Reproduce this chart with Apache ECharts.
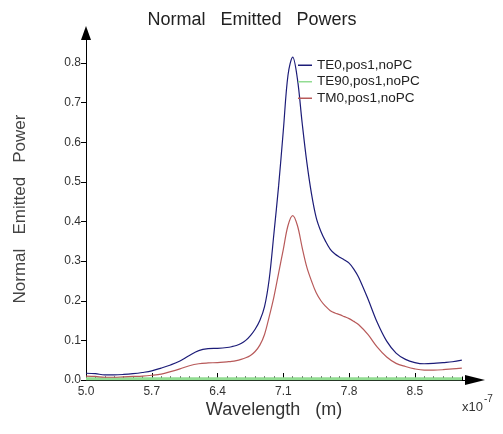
<!DOCTYPE html>
<html>
<head>
<meta charset="utf-8">
<script src="https://cdn.jsdelivr.net/npm/echarts@6/dist/echarts.min.js"></script>
<style>html,body{margin:0;padding:0;background:#fff}#c{width:503px;height:434px}</style>
</head>
<body>
<div id="c"></div>
<script>
// Wavelength (x10^-7 m)
var wavelength = [5.0,5.1,5.2,5.3,5.4,5.5,5.6,5.7,5.8,5.9,6.0,6.1,6.2,6.3,6.4,6.5,6.55,6.6,6.65,6.7,6.75,6.8,6.85,6.9,6.95,7.0,7.05,7.1,7.15,7.2,7.25,7.3,7.35,7.4,7.45,7.5,7.55,7.6,7.65,7.7,7.75,7.8,7.85,7.9,8.0,8.1,8.2,8.3,8.4,8.5,8.6,8.7,8.8,8.9,9.0];
var te0 = [0.017,0.016,0.013,0.013,0.014,0.016,0.019,0.023,0.030,0.038,0.048,0.062,0.074,0.079,0.080,0.082,0.084,0.087,0.092,0.100,0.112,0.128,0.150,0.185,0.255,0.37,0.49,0.63,0.77,0.815,0.76,0.65,0.55,0.47,0.41,0.375,0.35,0.33,0.318,0.31,0.303,0.295,0.28,0.26,0.205,0.145,0.098,0.068,0.052,0.044,0.041,0.042,0.044,0.046,0.050];
var te90 = [0.003,0.003,0.003,0.003,0.003,0.003,0.003,0.003,0.003,0.003,0.003,0.003,0.003,0.003,0.003,0.003,0.003,0.003,0.003,0.003,0.003,0.003,0.003,0.003,0.003,0.003,0.003,0.003,0.003,0.003,0.003,0.003,0.003,0.003,0.003,0.003,0.003,0.003,0.003,0.003,0.003,0.003,0.003,0.003,0.003,0.003,0.003,0.003,0.003,0.003,0.003,0.003,0.003,0.003,0.003];
var tm0 = [0.010,0.009,0.007,0.007,0.008,0.009,0.010,0.012,0.015,0.021,0.028,0.036,0.041,0.043,0.044,0.046,0.047,0.049,0.052,0.056,0.062,0.072,0.088,0.115,0.16,0.21,0.27,0.33,0.39,0.415,0.39,0.335,0.285,0.25,0.22,0.20,0.186,0.175,0.169,0.165,0.16,0.155,0.148,0.14,0.115,0.083,0.058,0.042,0.034,0.028,0.025,0.025,0.026,0.028,0.030];
var seriesNames = ['TE0,pos1,noPC','TE90,pos1,noPC','TM0,pos1,noPC'];
var xTicks = [5.0,5.7,6.4,7.1,7.8,8.5];
var yTicks = [0,0.1,0.2,0.3,0.4,0.5,0.6,0.7,0.8];
var minorXTicks = [];
for (var i = 50; i <= 90; i++) minorXTicks.push(i / 10);

function pairs(ys){ return wavelength.map(function(x,i){ return [x, ys[i]]; }); }

var FONT = '"Liberation Sans",Arial,sans-serif';
var chart = echarts.init(document.getElementById('c'), null, {renderer:'canvas'});
chart.setOption({
  animation: false,
  backgroundColor: '#fff',
  grid: {left: 86, right: 28, top: 33, bottom: 54, containLabel: false},
  legend: {
    orient: 'vertical', left: 293, top: 52, itemGap: 0,
    itemWidth: 14, itemHeight: 1.5, icon: 'rect',
    textStyle: {fontFamily: FONT, fontSize: 13.5, color: '#222', lineHeight: 16.5},
    data: seriesNames
  },
  xAxis: [{
    type: 'value', min: 5.0, max: 9.14,
    axisLine: {show: true, lineStyle: {color: '#000', width: 1}, symbol: ['none','triangle'], symbolSize: [10, 20]},
    axisTick: {show: true, inside: true, length: 7, lineStyle: {color: '#000'}, customValues: xTicks},
    axisLabel: {customValues: xTicks, formatter: function(v){return v.toFixed(1);}, fontFamily: FONT, fontSize: 12, color: '#333', margin: 6},
    splitLine: {show: false}
  },{
    type: 'value', min: 5.0, max: 9.14, position: 'bottom',
    axisLine: {show: false},
    axisTick: {show: true, inside: true, length: 3.5, lineStyle: {color: '#000'}, customValues: minorXTicks},
    axisLabel: {show: false},
    splitLine: {show: false}
  }],
  yAxis: {
    type: 'value', min: 0, max: 0.876,
    axisLine: {show: true, lineStyle: {color: '#000', width: 1}, symbol: ['none','triangle'], symbolSize: [10, 14]},
    axisTick: {show: true, length: 5, lineStyle: {color: '#000'}, customValues: yTicks},
    axisLabel: {customValues: yTicks, formatter: function(v){return v.toFixed(1);}, fontFamily: FONT, fontSize: 12, color: '#333', margin: 5},
    splitLine: {show: false}
  },
  graphic: [
    {type: 'text', x: 252, y: 20, style: {text: 'Normal   Emitted   Powers', font: '18px ' + FONT, fill: '#222', align: 'center', verticalAlign: 'middle'}},
    {type: 'text', x: 20, y: 209, rotation: Math.PI/2, style: {text: 'Normal   Emitted   Power', font: '17px ' + FONT, fill: '#444', align: 'center', verticalAlign: 'middle'}},
    {type: 'text', x: 274, y: 410, style: {text: 'Wavelength   (m)', font: '18px ' + FONT, fill: '#333', align: 'center', verticalAlign: 'middle'}},
    {type: 'text', x: 462, y: 404, style: {
      text: '{a|x10}{b|-7}', verticalAlign: 'middle', align: 'left',
      rich: {a: {fontFamily: FONT, fontSize: 13, fill: '#333', color: '#333', verticalAlign: 'bottom', padding: [6,0,0,0]},
             b: {fontFamily: FONT, fontSize: 10, fill: '#333', color: '#333', verticalAlign: 'top', padding: [0,0,8,1]}}
    }}
  ],
  series: [
    {name: seriesNames[0], type: 'line', data: pairs(te0), smooth: 0.35, showSymbol: false, lineStyle: {color: '#1c1c78', width: 1.2}, itemStyle: {color: '#1c1c78'}},
    {name: seriesNames[1], type: 'line', data: pairs(te90), smooth: 0.35, showSymbol: false, lineStyle: {color: '#92dc92', width: 3}, itemStyle: {color: '#92dc92'}},
    {name: seriesNames[2], type: 'line', data: pairs(tm0), smooth: 0.35, showSymbol: false, lineStyle: {color: '#b85a5a', width: 1.2}, itemStyle: {color: '#b85a5a'}}
  ]
});
</script>
</body>
</html>
